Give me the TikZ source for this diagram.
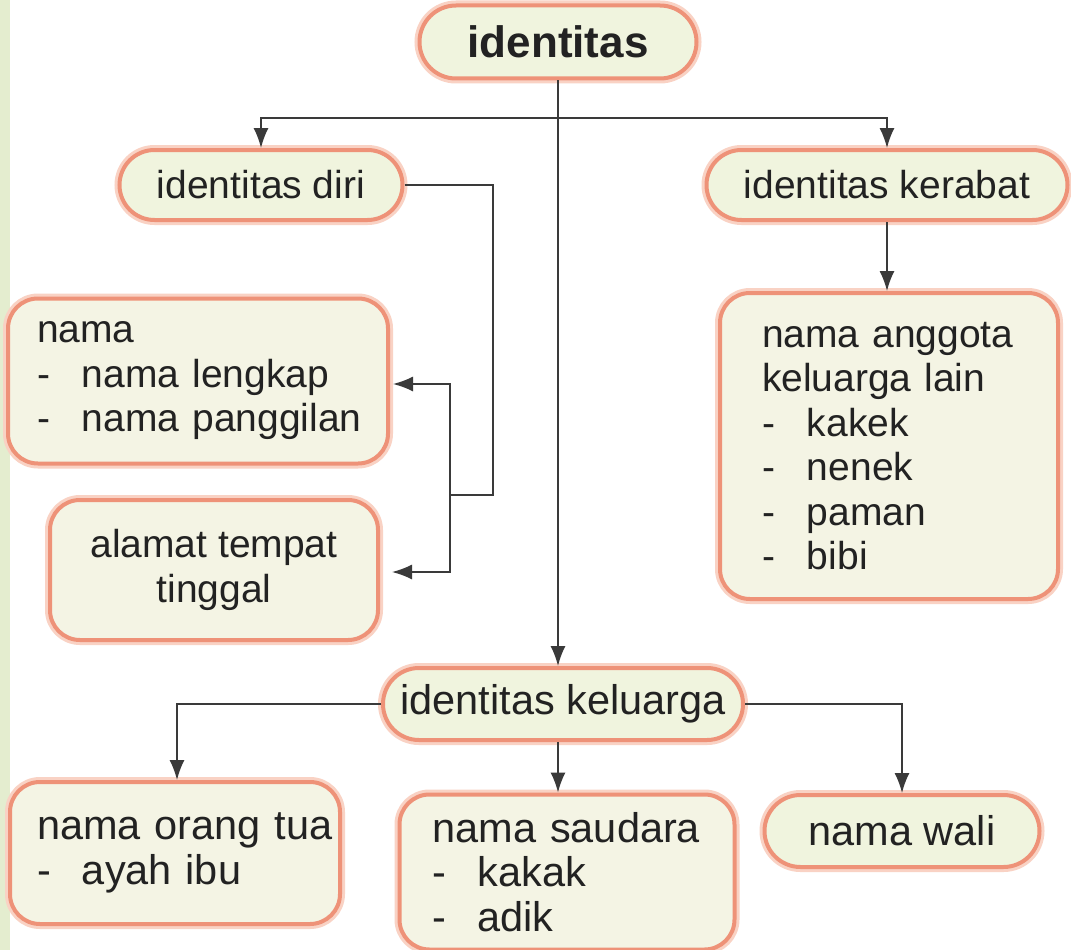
\documentclass[tikz,border=0pt]{standalone}
\usepackage{fontspec}
\setmainfont{Liberation Sans}
\usetikzlibrary{arrows.meta,shapes.misc}
\definecolor{bandgreen}{HTML}{E4EDCF}
\definecolor{edge}{HTML}{EE9278}
\definecolor{glow}{HTML}{F9D2C4}
\definecolor{pillfill}{HTML}{F0F4DE}
\definecolor{boxfill}{HTML}{F4F4E4}
\definecolor{ink}{HTML}{222222}
\definecolor{wire}{HTML}{3A3A3A}
\newcommand{\dashitem}[1]{\mbox{\makebox[45pt][l]{-}#1}}
\tikzset{
  base/.style={draw=edge, line width=4pt, text=ink, inner sep=0pt,
    preaction={draw=glow, line width=10pt},
    font=\fontsize{39}{44.5}\selectfont},
  pill/.style={base, rounded rectangle, fill=pillfill},
  listbox/.style={base, rectangle, rounded corners=30pt, fill=boxfill, align=left},
  lowrow/.style={font=\fontsize{41.5}{44.5}\selectfont},
  conn/.style={draw=wire, line width=1.6pt, -{Latex[length=20pt,width=15pt]}},
  wireline/.style={draw=wire, line width=1.6pt}
}
\begin{document}
\begin{tikzpicture}[x=1pt,y=-1pt]
\useasboundingbox (0,0) rectangle (1071,950);
\fill[white] (0,0) rectangle (1071,950);
\fill[bandgreen] (0,0) rectangle (10,950);

\node[pill, minimum width=277pt, minimum height=73pt, font=\fontsize{44}{50}\selectfont\bfseries] (top) at (558,42) {identitas};
\node[pill, minimum width=283pt, minimum height=70pt] (diri) at (261,185) {identitas diri};
\node[pill, minimum width=361pt, minimum height=70pt] (ker) at (887,185) {identitas kerabat};

\node[listbox, minimum width=380pt, minimum height=165pt, text width=322pt, inner xsep=29pt] (nama) at (198,381) {\mbox{nama}\\\dashitem{nama lengkap}\\\dashitem{nama panggilan}};
\node[listbox, align=center, minimum width=328pt, minimum height=140pt] (alamat) at (214,570) {alamat tempat\\tinggal};

\node[listbox, minimum width=338pt, minimum height=306pt, text width=254pt, inner xsep=42pt] (klist) at (889,446) {\mbox{nama anggota}\\\mbox{keluarga lain}\\\dashitem{kakek}\\\dashitem{nenek}\\\dashitem{paman}\\\dashitem{bibi}};

\node[pill, lowrow, minimum width=360pt, minimum height=72pt] (kel) at (563,704) {identitas keluarga};

\node[listbox, lowrow, minimum width=330pt, minimum height=142pt, text width=276pt, inner xsep=27pt] (ortu) at (175,853) {\mbox{nama orang tua}\\\dashitem{ayah ibu}};
\node[listbox, lowrow, minimum width=335pt, minimum height=155pt, text width=269pt, inner xsep=33pt] (sdr) at (567,872) {\mbox{nama saudara}\\\dashitem{kakak}\\\dashitem{adik}};
\node[pill, lowrow, minimum width=275pt, minimum height=72pt] (wali) at (902,831) {nama wali};

% connectors
\coordinate (split) at (558,118);
\draw[conn] (top.south) -- (top.south |- kel.north);
\draw[conn] (split) -| (diri.north);
\draw[conn] (split) -| (ker.north);
\coordinate (bend) at (493,495);
\coordinate (fork) at (450,495);
\draw[wireline] (diri.east) -| (bend) -- (fork);
\draw[conn] (fork) |- ([xshift=3pt,yshift=-3pt]nama.east);
\draw[conn] (fork) |- ([xshift=12pt,yshift=-2pt]alamat.east);
\draw[conn] (ker.south) -- (ker.south |- klist.north);
\draw[conn] (kel.west) -| ([xshift=2pt]ortu.north);
\draw[conn] (top.south |- kel.south) -- (top.south |- sdr.north);
\draw[conn] (kel.east) -| (wali.north);
\end{tikzpicture}
\end{document}
